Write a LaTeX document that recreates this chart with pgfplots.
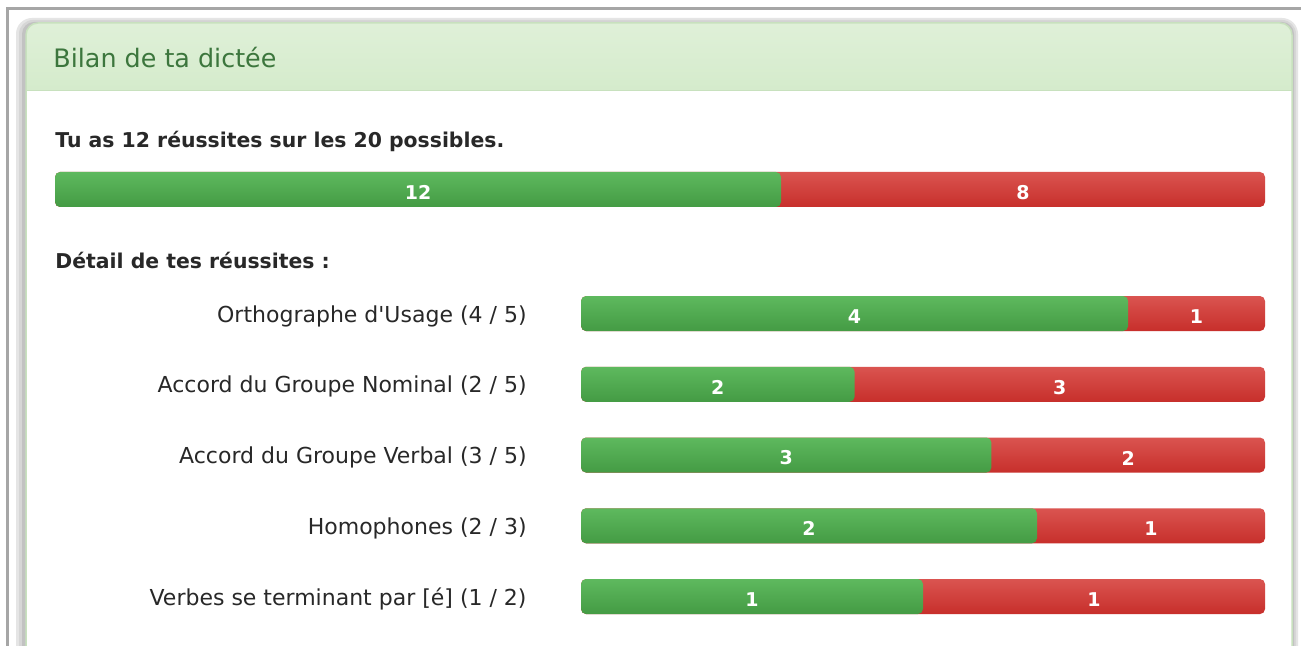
\documentclass[border=0pt]{standalone}
\usepackage{pgfplots}
\pgfplotsset{compat=1.18}
\usepackage{pgfplotstable}
\usepackage{fontspec}
\setmainfont{DejaVu Sans}[Ligatures=TeXOff]
\definecolor{gTop}{RGB}{94,185,94}
\definecolor{gBot}{RGB}{68,155,68}
\definecolor{rTop}{RGB}{218,84,80}
\definecolor{rBot}{RGB}{199,47,43}
\definecolor{hdTop}{RGB}{223,240,216}
\definecolor{hdBot}{RGB}{208,233,198}
\definecolor{hdBorder}{RGB}{200,225,190}
\definecolor{hdText}{RGB}{60,118,61}
\definecolor{bodyText}{RGB}{40,40,40}

\pgfplotstableread{
row ok ko
0 12 8
}\totaltable
\pgfplotstableread{
row ok ko
0 4 1
1 2 3
2 3 2
3 2 1
4 1 1
}\detailtable

\begin{document}
\begin{tikzpicture}
\begin{scope}[x=0.5pt,y=-0.5pt]
\path[use as bounding box] (0,0) rectangle (1301,646);
\fill[white] (0,0) rectangle (1301,646);
% outer frame
\draw[gray!70, line width=1.5pt] (7.5,660) -- (7.5,8.5) -- (1310,8.5);
% panel shadow
\fill[black!10, rounded corners=8] (16,18) rectangle (1298,700);
\fill[black!16, rounded corners=7] (19,20) rectangle (1296,700);
\fill[black!24, rounded corners=6] (22,22) rectangle (1294,700);
% panel
\fill[white, rounded corners=6] (26,23) rectangle (1292,700);
\shade[top color=hdTop, bottom color=hdBot, rounded corners=6] (26,23) rectangle (1292,120);
\fill[white] (26,91) rectangle (1292,700);
\draw[hdBorder, line width=0.5pt] (26,91) -- (1292,91);
\draw[hdBorder, line width=0.75pt, rounded corners=6] (26,700) -- (26,23) -- (1292,23) -- (1292,700);
% texts
\node[anchor=base west, inner sep=0pt, text=hdText, font=\fontsize{12.7pt}{14pt}\selectfont] at (53,68) {Bilan de ta dictée};
\node[anchor=base west, inner sep=0pt, text=bodyText, font=\fontsize{10.2pt}{12pt}\selectfont\bfseries] at (55,148) {Tu as 12 réussites sur les 20 possibles.};
\node[anchor=base west, inner sep=0pt, text=bodyText, font=\fontsize{10.2pt}{12pt}\selectfont\bfseries] at (55,269) {Détail de tes réussites :};
\end{scope}

% overall bar
\begin{axis}[
  at={(27.5pt,-103.5pt)}, anchor=south west,
  scale only axis, width=605pt, height=17.5pt,
  xmin=0, xmax=20, ymin=-0.5, ymax=0.5,
  hide axis, clip=false,
  bar width=17.5pt,
  /pgf/number format/assume math mode=true,
]
\addplot[xbar, bar shift=0pt, draw=none, top color=rTop, bottom color=rBot, rounded corners=2.5pt]
  table[x expr={\thisrow{ok}+\thisrow{ko}}, y=row]{\totaltable};
\addplot[xbar, bar shift=0pt, draw=none, top color=gTop, bottom color=gBot, rounded corners=2.5pt]
  table[x=ok, y=row]{\totaltable};
\addplot[sharp plot, draw=none, mark=none, nodes near coords, point meta=explicit,
  every node near coord/.append style={anchor=center, text=white, yshift=-1.5pt, font=\fontsize{9.5pt}{11pt}\selectfont\bfseries}]
  table[x expr={\thisrow{ok}/2}, y=row, meta=ok]{\totaltable};
\addplot[sharp plot, draw=none, mark=none, nodes near coords, point meta=explicit,
  every node near coord/.append style={anchor=center, text=white, yshift=-1.5pt, font=\fontsize{9.5pt}{11pt}\selectfont\bfseries}]
  table[x expr={\thisrow{ok}+\thisrow{ko}/2}, y=row, meta=ko]{\totaltable};
\end{axis}

% detail bars
\begin{axis}[
  at={(290.5pt,-315.95pt)}, anchor=south west,
  scale only axis, width=342pt, height=176.875pt,
  xmin=0, xmax=100, ymin=-0.5, ymax=4.5, y dir=reverse,
  axis line style={draw=none}, xtick=\empty, ytick={0,1,2,3,4}, major tick length=0pt,
  yticklabels={{Orthographe d'Usage (4 / 5)},{Accord du Groupe Nominal (2 / 5)},{Accord du Groupe Verbal (3 / 5)},{Homophones (2 / 3)},{Verbes se terminant par [é] (1 / 2)}},
  yticklabel style={anchor=base east, inner sep=0pt, xshift=-27pt, yshift=-4.3pt, font=\fontsize{11pt}{13pt}\selectfont, text=bodyText},
  clip=false, bar width=17.5pt,
  /pgf/number format/assume math mode=true,
]
\pgfplotsinvokeforeach{0,1,2,3,4}{
\addplot[xbar, bar shift=0pt, draw=none, top color=rTop, bottom color=rBot, rounded corners=2.5pt, restrict y to domain=#1:#1]
  table[x expr={(\thisrow{ok}+\thisrow{ko})/(\thisrow{ok}+\thisrow{ko})*100}, y=row]{\detailtable};
\addplot[xbar, bar shift=0pt, draw=none, top color=gTop, bottom color=gBot, rounded corners=2.5pt, restrict y to domain=#1:#1]
  table[x expr={\thisrow{ok}/(\thisrow{ok}+\thisrow{ko})*100}, y=row]{\detailtable};
}
\addplot[sharp plot, draw=none, mark=none, nodes near coords, point meta=explicit,
  every node near coord/.append style={anchor=center, text=white, yshift=-1.5pt, font=\fontsize{9.5pt}{11pt}\selectfont\bfseries}]
  table[x expr={\thisrow{ok}/(\thisrow{ok}+\thisrow{ko})*50}, y=row, meta=ok]{\detailtable};
\addplot[sharp plot, draw=none, mark=none, nodes near coords, point meta=explicit,
  every node near coord/.append style={anchor=center, text=white, yshift=-1.5pt, font=\fontsize{9.5pt}{11pt}\selectfont\bfseries}]
  table[x expr={(\thisrow{ok}+\thisrow{ko}/2)/(\thisrow{ok}+\thisrow{ko})*100}, y=row, meta=ko]{\detailtable};
\end{axis}
\end{tikzpicture}
\end{document}
